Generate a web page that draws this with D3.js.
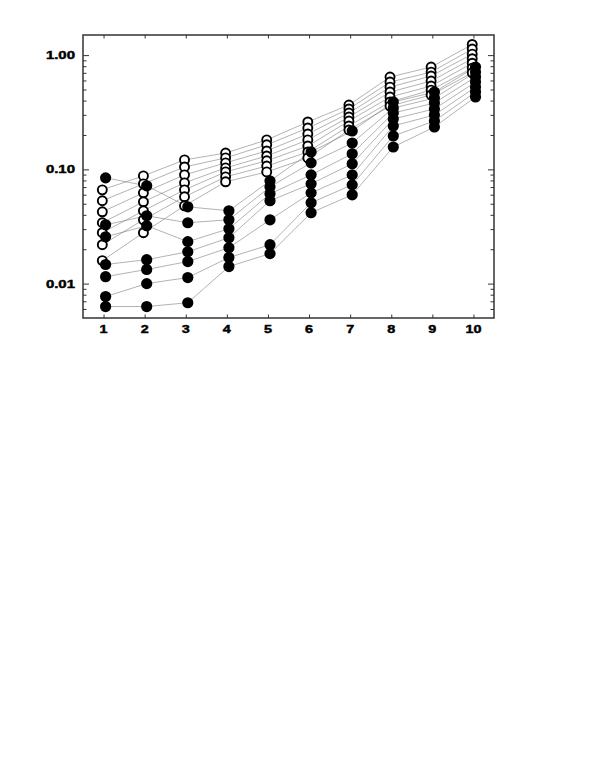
<!DOCTYPE html>
<html>
<head>
<meta charset="utf-8">
<script src="https://cdn.jsdelivr.net/npm/d3@7"></script>
<style>
  body { margin: 0; background: #fff; }
  svg { display: block; }
  .lbl { font-family: "Liberation Sans", Arial, sans-serif; font-weight: bold; font-size: 11.5px; fill: #000; stroke: #000; stroke-width: 0.45; }
</style>
</head>
<body>
<svg id="chart" width="595" height="770"></svg>
<script>
var steps = [1, 2, 3, 4, 5, 6, 7, 8, 9, 10];

// open-circle series, one row per line
var openSeries = [
  [0.0662, 0.0877, 0.121, 0.139, 0.181, 0.260, 0.366, 0.643, 0.786, 1.24],
  [0.0531, 0.0747, 0.105, 0.126, 0.164, 0.230, 0.338, 0.581, 0.710, 1.13],
  [0.0425, 0.0623, 0.0895, 0.114, 0.145, 0.204, 0.311, 0.525, 0.656, 1.02],
  [0.0341, 0.0520, 0.0762, 0.103, 0.131, 0.181, 0.287, 0.475, 0.593, 0.93],
  [0.0279, 0.0434, 0.0662, 0.095, 0.119, 0.160, 0.265, 0.430, 0.536, 0.85],
  [0.0219, 0.0362, 0.0575, 0.086, 0.107, 0.142, 0.240, 0.389, 0.494, 0.77],
  [0.0159, 0.0279, 0.0480, 0.0778, 0.095, 0.126, 0.221, 0.358, 0.448, 0.70]
];

// filled-circle series
var filledSeries = [
  [0.0843, 0.0718, 0.0470, 0.0434, 0.0793, 0.142, 0.217, 0.389, 0.475, 0.786],
  [0.0327, 0.0392, 0.0341, 0.0362, 0.0703, 0.114, 0.170, 0.344, 0.421, 0.710],
  [0.0257, 0.0321, 0.0233, 0.0302, 0.0611, 0.0895, 0.137, 0.311, 0.381, 0.643],
  [0.0147, 0.0162, 0.0190, 0.0252, 0.0531, 0.0747, 0.112, 0.276, 0.338, 0.581],
  [0.0115, 0.0133, 0.0156, 0.0206, 0.0362, 0.0623, 0.0895, 0.240, 0.299, 0.525],
  [0.0077, 0.0100, 0.0113, 0.0169, 0.0219, 0.0510, 0.0732, 0.196, 0.265, 0.475],
  [0.0063, 0.0063, 0.0068, 0.0141, 0.0183, 0.0417, 0.0599, 0.157, 0.235, 0.430]
];

var yMajor = [0.01, 0.1, 1];
var yLabels = ["0.01", "0.10", "1.00"];
var yMinor = [0.006, 0.007, 0.008, 0.009,
  0.02, 0.03, 0.04, 0.05, 0.06, 0.07, 0.08, 0.09,
  0.2, 0.3, 0.4, 0.5, 0.6, 0.7, 0.8, 0.9];

var plotLeft = 83, plotRight = 494, plotTop = 35, plotBottom = 318;
var svg = d3.select("#chart");

var x = d3.scaleLinear().domain([0.5, 10.5]).range([plotLeft, plotRight]);
var y = d3.scaleLog().domain([0.005, 1.5]).range([plotBottom, plotTop]);

var openShift = -0.03, filledShift = 0.05;

// axes, ticks pointing inwards
function axisStyle(g) {
  g.select(".domain").remove();
  g.selectAll("line").attr("stroke", "#333").attr("stroke-width", 1);
  g.selectAll("text").remove();
}
svg.append("g").attr("transform", "translate(" + plotLeft + ",0)")
  .call(d3.axisLeft(y).tickValues(yMajor).tickSize(-6)).call(axisStyle);
svg.append("g").attr("transform", "translate(" + plotLeft + ",0)")
  .call(d3.axisLeft(y).tickValues(yMinor).tickSize(-3.5)).call(axisStyle);
svg.append("g").attr("transform", "translate(" + plotRight + ",0)")
  .call(d3.axisRight(y).tickValues(yMajor).tickSize(-6)).call(axisStyle);
svg.append("g").attr("transform", "translate(" + plotRight + ",0)")
  .call(d3.axisRight(y).tickValues(yMinor).tickSize(-3.5)).call(axisStyle);
svg.append("g").attr("transform", "translate(0," + plotBottom + ")")
  .call(d3.axisBottom(x).tickValues(steps).tickSize(-3.5)).call(axisStyle);
svg.append("g").attr("transform", "translate(0," + plotTop + ")")
  .call(d3.axisTop(x).tickValues(steps).tickSize(-3.5)).call(axisStyle);

svg.append("rect")
  .attr("x", plotLeft).attr("y", plotTop)
  .attr("width", plotRight - plotLeft).attr("height", plotBottom - plotTop)
  .attr("fill", "none").attr("stroke", "#333").attr("stroke-width", 1.5);

// tick labels (stretched wide like the original)
svg.selectAll(".ylab").data(yMajor).enter().append("text")
  .attr("class", "lbl")
  .attr("text-anchor", "end")
  .attr("transform", function(d) { return "translate(75," + (y(d) + 4) + ") scale(1.3,1)"; })
  .text(function(d, i) { return yLabels[i]; });

svg.selectAll(".xlab").data(steps).enter().append("text")
  .attr("class", "lbl")
  .attr("text-anchor", "middle")
  .attr("transform", function(d) { return "translate(" + x(d) + ",333) scale(1.25,1)"; })
  .text(function(d) { return d; });

// connecting lines
function lineFor(shift) {
  return d3.line()
    .x(function(d, i) { return x(steps[i] + shift); })
    .y(function(d) { return y(d); });
}

svg.append("g").selectAll("path").data(openSeries).enter().append("path")
  .attr("d", lineFor(openShift))
  .attr("fill", "none").attr("stroke", "#808080").attr("stroke-width", 0.6);
svg.append("g").selectAll("path").data(filledSeries).enter().append("path")
  .attr("d", lineFor(filledShift))
  .attr("fill", "none").attr("stroke", "#808080").attr("stroke-width", 0.6);

// markers
openSeries.forEach(function(row) {
  svg.append("g").selectAll("circle").data(row).enter().append("circle")
    .attr("cx", function(d, i) { return x(steps[i] + openShift); })
    .attr("cy", function(d) { return y(d); })
    .attr("r", 4.5)
    .attr("fill", "#fff").attr("stroke", "#000").attr("stroke-width", 1.9);
});
filledSeries.forEach(function(row) {
  svg.append("g").selectAll("circle").data(row).enter().append("circle")
    .attr("cx", function(d, i) { return x(steps[i] + filledShift); })
    .attr("cy", function(d) { return y(d); })
    .attr("r", 5.6)
    .attr("fill", "#000");
});
</script>
</body>
</html>
